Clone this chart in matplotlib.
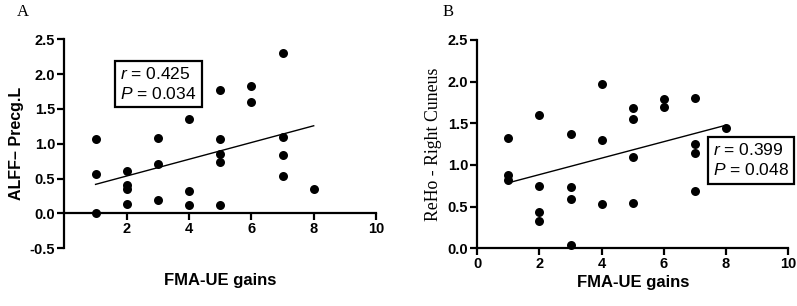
import matplotlib
matplotlib.use("Agg")
import matplotlib.pyplot as plt
import numpy as np

plt.rcParams["font.family"] = ["Liberation Sans", "DejaVu Sans"]
plt.rcParams["mathtext.fontset"] = "custom"
plt.rcParams["mathtext.it"] = "Liberation Sans:italic"
plt.rcParams["mathtext.rm"] = "Liberation Sans"

# Panel A: ALFF of left precentral gyrus vs FMA-UE gains
a_x = [1, 1, 1, 2, 2, 2, 2, 3, 3, 3, 4, 4, 4, 5, 5, 5, 5, 5, 6, 6, 7, 7, 7, 7, 8]
a_y = [1.07, 0.57, 0.00, 0.61, 0.41, 0.345, 0.13, 1.09, 0.71, 0.20, 1.36, 0.32, 0.12,
       1.77, 1.07, 0.86, 0.74, 0.12, 1.83, 1.60, 2.30, 1.10, 0.84, 0.54, 0.345]
a_stats = "$r$ = 0.425\n$P$ = 0.034"

# Panel B: ReHo of right cuneus vs FMA-UE gains
b_x = [1, 1, 1, 2, 2, 2, 2, 3, 3, 3, 3, 4, 4, 4, 5, 5, 5, 5, 6, 6, 7, 7, 7, 7, 8]
b_y = [1.32, 0.88, 0.82, 1.60, 0.75, 0.44, 0.33, 1.37, 0.73, 0.59, 0.04, 1.97, 1.30, 0.53,
       1.68, 1.55, 1.10, 0.54, 1.79, 1.69, 1.80, 1.25, 1.14, 0.69, 1.44]
b_stats = "$r$ = 0.399\n$P$ = 0.048"

x_label = "FMA-UE gains"


def style_axis(ax):
    for side in ("top", "right"):
        ax.spines[side].set_visible(False)
    for side in ("left", "bottom"):
        ax.spines[side].set_linewidth(1.6)
    ax.tick_params(width=1.6, length=5, labelsize=10.5, pad=1.5)
    for lab in ax.get_xticklabels() + ax.get_yticklabels():
        lab.set_fontweight("bold")


def draw_panel(ax, xs, ys, stats, stats_xy):
    xs = np.asarray(xs, dtype=float)
    ys = np.asarray(ys, dtype=float)
    ax.scatter(xs, ys, s=42, color="black", zorder=3, clip_on=False, linewidths=0)
    slope, intercept = np.polyfit(xs, ys, 1)
    fx = np.array([xs.min(), xs.max()])
    ax.plot(fx, slope * fx + intercept, color="black", lw=1.0)
    ax.text(stats_xy[0], stats_xy[1], stats, fontsize=12.5, va="top", ha="left",
            linespacing=1.3,
            bbox=dict(boxstyle="square,pad=0.3", fc="white", ec="black", lw=1.6))


fig = plt.figure(figsize=(7.97, 3.06), dpi=100)

# panel A
ax_a = fig.add_axes([0.0808, 0.1886, 0.391, 0.683])
draw_panel(ax_a, a_x, a_y, a_stats, (1.8, 2.12))
ax_a.set_xlim(0, 10)
ax_a.set_ylim(-0.5, 2.5)
ax_a.spines["bottom"].set_position(("data", 0))
ax_a.set_xticks([2, 4, 6, 8, 10])
ax_a.set_yticks([-0.5, 0.0, 0.5, 1.0, 1.5, 2.0, 2.5])
ax_a.set_yticklabels(["-0.5", "0.0", "0.5", "1.0", "1.5", "2.0", "2.5"])
style_axis(ax_a)
ax_a.set_ylabel("ALFF\u2013 Precg.L", fontsize=11.5, fontweight="bold", labelpad=4)
ax_a.text(5, -0.96, x_label, fontsize=12, fontweight="bold", ha="center", va="center")

# panel B
ax_b = fig.add_axes([0.5989, 0.1886, 0.390, 0.681])
draw_panel(ax_b, b_x, b_y, b_stats, (7.58, 1.27))
ax_b.set_xlim(0, 10)
ax_b.set_ylim(0, 2.5)
ax_b.set_xticks([0, 2, 4, 6, 8, 10])
ax_b.set_yticks([0.0, 0.5, 1.0, 1.5, 2.0, 2.5])
ax_b.set_yticklabels(["0.0", "0.5", "1.0", "1.5", "2.0", "2.5"])
style_axis(ax_b)
ax_b.set_ylabel("ReHo - Right Cuneus", fontsize=12.8, family="Liberation Serif", labelpad=4)
ax_b.set_xlabel(x_label, fontsize=12, fontweight="bold", labelpad=3)

fig.text(17 / 797, 1 - 12 / 306, "A", family="Liberation Serif", fontsize=12,
         va="center", ha="left")
fig.text(443 / 797, 1 - 12 / 306, "B", family="Liberation Serif", fontsize=12,
         va="center", ha="left")

fig.savefig("out.png", dpi=100)
